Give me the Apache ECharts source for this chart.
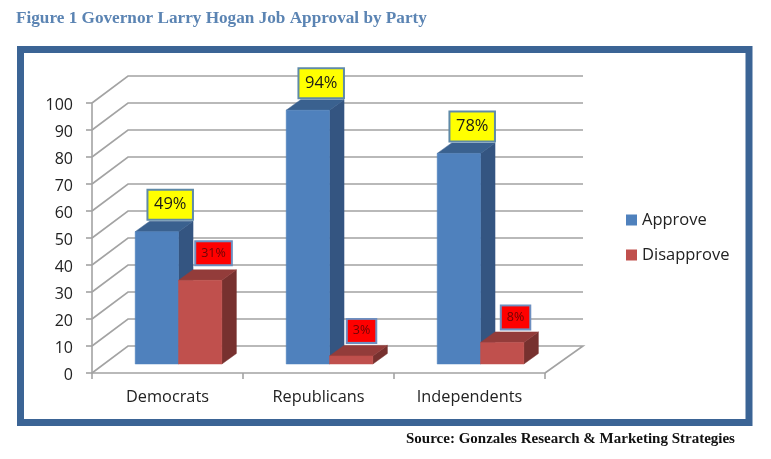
<!DOCTYPE html>
<html><head><meta charset="utf-8">
<style>html,body{margin:0;padding:0;background:#fff}#c{width:771px;height:459px}</style>
<script src="https://cdn.jsdelivr.net/npm/echarts@6/dist/echarts.min.js"></script>
</head><body><div id="c"></div>
<script>
const categories = ['Democrats', 'Republicans', 'Independents'];
const approve = [49, 94, 78];
const disapprove = [31, 3, 8];
const gridValues = [0, 10, 20, 30, 40, 50, 60, 70, 80, 90, 100];

const FONT = '"Open Sans", sans-serif';
const LINE = '#a3a3a3';
const WALL_DX = 36, WALL_DY = -27;
const BAR_DX = 12, BAR_DY = -9;      // gap between the axis plane and the front of the bars
const DEPTH_DX = 14.5, DEPTH_DY = -10.5;
const BAR_BAND = 0.287;
const disapproveNudge = [[0, 0], [-3, 2], [0, 2]];

const chart = echarts.init(document.getElementById('c'), null, {renderer: 'canvas'});

function poly(points, fill) {
  return {type: 'polygon', shape: {points}, style: {fill, stroke: fill, lineWidth: 0.5}};
}
function barRender(slot, front, top, side) {
  return function (params, api) {
    const i = api.value(0), v = api.value(1);
    const base = api.coord([i, 0]), head = api.coord([i, v]);
    const w = api.size([1, 0])[0] * BAR_BAND;
    const xl = base[0] - 32.3 + slot * w + BAR_DX - 12;
    const xr = xl + w;
    const yb = base[1] + BAR_DY, yt = head[1] + BAR_DY;
    return {type: 'group', children: [
      poly([[xr, yb], [xr + DEPTH_DX, yb + DEPTH_DY], [xr + DEPTH_DX, yt + DEPTH_DY], [xr, yt]], side),
      poly([[xl, yt], [xr, yt], [xr + DEPTH_DX, yt + DEPTH_DY], [xl + DEPTH_DX, yt + DEPTH_DY]], top),
      poly([[xl, yb], [xr, yb], [xr, yt], [xl, yt]], front)
    ]};
  };
}
function labelRender(slot, fill, textFill, fontSize, pad, stroke, nudge) {
  return function (params, api) {
    const i = api.value(0), v = api.value(1);
    const base = api.coord([i, 0]), head = api.coord([i, v]);
    const w = api.size([1, 0])[0] * BAR_BAND;
    const xl = base[0] - 32.3 + slot * w;
    const n = nudge ? nudge[i] : [0, 0];
    return {
      type: 'text', x: xl + 35 + n[0], y: head[1] + BAR_DY - 27 + n[1],
      style: {
        text: v + '%', font: fontSize + 'px ' + FONT, fill: textFill,
        align: 'center', verticalAlign: 'middle',
        backgroundColor: fill, borderColor: stroke, borderWidth: 2, padding: pad
      }
    };
  };
}
function wallRender(params, api) {
  const c = params.coordSys;
  const v = api.value(1);
  const y = api.coord([0, v])[1];
  const x0 = c.x, x1 = c.x + c.width;
  const pts = [[x0, y], [x0 + WALL_DX, y + WALL_DY], [x1 + WALL_DX + 2, y + WALL_DY]];
  if (v === 0) pts.push([x1, y]);
  return {type: 'polyline', shape: {points: pts},
    style: {stroke: LINE, lineWidth: 1.6, fill: 'none'}};
}
const pairs = arr => arr.map((v, i) => [i, v]);

chart.setOption({
  animation: false,
  backgroundColor: '#fff',
  title: [
    {text: 'Figure 1 Governor Larry Hogan Job Approval by Party', left: 16, top: 10, padding: 0,
     textStyle: {fontFamily: '"Liberation Serif", serif', fontWeight: 'bold', fontSize: 17.2, color: '#5b84b3'}},
    {text: 'Source: Gonzales Research & Marketing Strategies', left: 406, top: 432, padding: 0,
     textStyle: {fontFamily: '"Liberation Serif", serif', fontWeight: 'bold', fontSize: 15, color: '#111'}}
  ],
  grid: {left: 92, right: 226, top: 103, bottom: 86},
  xAxis: {
    type: 'category', data: categories,
    axisLine: {lineStyle: {color: LINE, width: 1.6}},
    axisTick: {show: true, length: 6, lineStyle: {color: LINE, width: 1.6}},
    axisLabel: {fontFamily: FONT, fontSize: 16.3, color: '#222', margin: 16}
  },
  yAxis: {
    type: 'value', min: 0, max: 100, interval: 10,
    axisLine: {show: true, lineStyle: {color: LINE, width: 1.6}},
    axisTick: {show: true, length: 6, lineStyle: {color: LINE, width: 1.6}},
    axisLabel: {
      formatter: '{n|{value}}', margin: 19,
      rich: {n: {fontFamily: FONT, fontSize: 16, color: '#222', padding: [4, 0, 0, 0]}}
    },
    splitLine: {show: false}
  },
  legend: {
    data: ['Approve', 'Disapprove'], orient: 'vertical', left: 626, top: 209, padding: 0,
    itemWidth: 11, itemHeight: 11, itemGap: 13, icon: 'rect',
    textStyle: {fontFamily: FONT, fontSize: 16.5, color: '#222', padding: [0, 0, 0, 0], lineHeight: 22}
  },
  series: [
    {type: 'custom', name: 'walls', z: 1, silent: true, renderItem: wallRender,
     encode: {x: 0, y: 1}, data: gridValues.map(v => [0, v])},
    {type: 'custom', name: 'Approve', z: 2, renderItem: barRender(0, '#4f81bd', '#3a618f', '#345581'),
     encode: {x: 0, y: 1}, itemStyle: {color: '#4f81bd'}, data: pairs(approve)},
    {type: 'custom', name: 'Disapprove', z: 3, renderItem: barRender(1, '#c0504d', '#933c3a', '#77312f'),
     encode: {x: 0, y: 1}, itemStyle: {color: '#c0504d'}, data: pairs(disapprove)},
    {type: 'custom', name: 'approveLabels', z: 4, silent: true,
     renderItem: labelRender(0, '#ffff00', '#1a1a1a', 16.5, [7, 5.5, 4, 5.5], '#5f8aa8'),
     encode: {x: 0, y: 1}, data: pairs(approve)},
    {type: 'custom', name: 'disapproveLabels', z: 4, silent: true,
     renderItem: labelRender(1, '#ff0000', '#6b0505', 12.5, [6, 5, 3, 5], '#6d8fc0', disapproveNudge),
     encode: {x: 0, y: 1}, data: pairs(disapprove)}
  ],
  graphic: [
    {type: 'rect', z: 0, silent: true, shape: {x: 20.5, y: 49.5, width: 728.5, height: 373},
     style: {fill: 'none', stroke: '#3b6495', lineWidth: 7}}
  ]
});
</script></body></html>
